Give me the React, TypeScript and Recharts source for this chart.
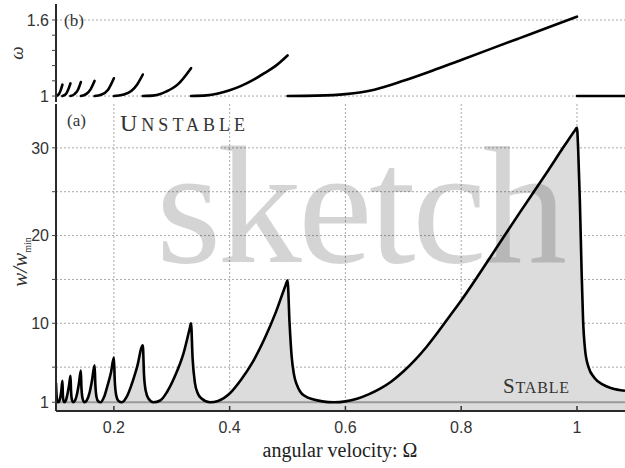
import { Area, CartesianGrid, ComposedChart, Line, ReferenceLine, XAxis, YAxis } from "recharts";

// angular velocity axis
const xTicks = [0.2, 0.4, 0.6, 0.8, 1];
const xDomain = [0.1, 1.083];

// panel (b): oscillation frequency
const omegaTicks = [1, 1.12, 1.24, 1.36, 1.48, 1.6];
const omegaLabels = ["1", "", "", "", "", "1.6"];
const omegaGrid = [1, 1.6];

// panel (a): w / w_min
const wTicks = [1, 5, 10, 15, 20, 25, 30];
const wLabels = ["1", "", "10", "", "20", "", "30"];
const wGrid = [5, 10, 15, 20, 25, 30];

// [Ω, w/w_min] stability boundary
const stabilityCurve: [number, number][] = [
	[0.1, 3.2], [0.1012, 1.6], [0.1025, 1.05], [0.104, 1.0], [0.1065, 1.3], [0.109, 2.2], [0.1111, 3.45],
	[0.1118, 2.0], [0.1128, 1.2], [0.1145, 1.0], [0.117, 1.2], [0.12, 2.0], [0.1225, 2.9], [0.125, 4.0],
	[0.126, 2.3], [0.1275, 1.3], [0.13, 1.0], [0.133, 1.2], [0.1365, 2.0], [0.1395, 3.1], [0.1429, 4.6],
	[0.144, 2.6], [0.146, 1.4], [0.149, 1.0], [0.153, 1.2], [0.158, 2.1], [0.162, 3.4], [0.1667, 5.2],
	[0.168, 3.0], [0.17, 1.6], [0.173, 1.1], [0.177, 1.0], [0.183, 1.6], [0.189, 2.9], [0.195, 4.4], [0.2, 6.1],
	[0.2015, 3.5], [0.204, 1.8], [0.208, 1.15], [0.214, 1.0], [0.222, 1.6], [0.23, 2.9], [0.24, 5.0], [0.25, 7.5],
	[0.252, 4.2], [0.255, 2.3], [0.26, 1.4], [0.268, 1.0], [0.28, 1.2], [0.292, 2.2], [0.305, 3.9], [0.32, 6.5], [0.331, 9.4], [0.3333, 10.0],
	[0.336, 6.0], [0.34, 3.2], [0.345, 2.0], [0.352, 1.4], [0.366, 1.0], [0.38, 1.15], [0.4, 2.0], [0.42, 3.6], [0.44, 5.6], [0.46, 8.2], [0.48, 11.3], [0.497, 14.4], [0.5, 14.9],
	[0.5035, 10.0], [0.507, 6.3], [0.511, 4.2], [0.516, 3.0], [0.522, 2.2], [0.53, 1.7], [0.545, 1.3], [0.56, 1.1], [0.58, 1.0],
	[0.6, 1.1], [0.62, 1.4], [0.64, 1.9], [0.66, 2.55], [0.68, 3.4], [0.7, 4.5], [0.72, 5.8], [0.74, 7.3], [0.76, 9.0], [0.78, 10.8],
	[0.8, 12.6], [0.85, 17.5], [0.9, 22.5], [0.95, 27.4], [0.98, 30.4], [0.996, 31.95], [1.0, 32.3],
	[1.002, 30], [1.005, 24], [1.008, 16], [1.0105, 10.5], [1.014, 7.0], [1.02, 5.0], [1.03, 3.8], [1.045, 3.0], [1.06, 2.6], [1.083, 2.3],
];

// [Ω, ω] branches, one per resonance window
const branch10: [number, number][] = [[0.1, 1.0], [0.105, 1.015], [0.108, 1.045], [0.1111, 1.09]];
const branch9: [number, number][] = [[0.1111, 1.0], [0.117, 1.015], [0.121, 1.05], [0.125, 1.1]];
const branch8: [number, number][] = [[0.125, 1.0], [0.132, 1.015], [0.138, 1.05], [0.1429, 1.11]];
const branch7: [number, number][] = [[0.1429, 1.0], [0.152, 1.015], [0.16, 1.055], [0.1667, 1.12]];
const branch6: [number, number][] = [[0.1667, 1.0], [0.178, 1.01], [0.19, 1.05], [0.2, 1.14]];
const branch5: [number, number][] = [[0.2, 1.0], [0.215, 1.01], [0.23, 1.04], [0.24, 1.09], [0.25, 1.17]];
const branch4: [number, number][] = [[0.25, 1.0], [0.27, 1.005], [0.29, 1.035], [0.31, 1.09], [0.3333, 1.22]];
const branch3: [number, number][] = [
	[0.3333, 1.0], [0.36, 1.005], [0.38, 1.02], [0.4, 1.045], [0.42, 1.08], [0.44, 1.125], [0.46, 1.18], [0.48, 1.24], [0.5, 1.32],
];
const branch2: [number, number][] = [
	[0.5, 1.0], [0.55, 1.003], [0.6, 1.015], [0.65, 1.05], [0.7, 1.12], [0.75, 1.2], [0.8, 1.285], [0.85, 1.37], [0.9, 1.455], [0.95, 1.54], [1.0, 1.626],
];
const branch1: [number, number][] = [[1.0, 1.0], [1.083, 1.0]];
const branches = [branch10, branch9, branch8, branch7, branch6, branch5, branch4, branch3, branch2, branch1];

const serif = "'Liberation Serif', 'Times New Roman', serif";
const sans = "'Liberation Sans', Arial, sans-serif";
const frame = { stroke: "#2a2a2a", strokeWidth: 2 };
const tickStyle = { fill: "#333", fontSize: 16, fontFamily: sans };

const curveData = stabilityCurve.map(([x, w]) => ({ x, w }));
const branchData = branches.map((b) => b.map(([x, y]) => ({ x, y })));

const App = (): JSX.Element => {
	return (
		<div style={{ position: "absolute", left: 0, top: 0, width: 625, height: 468, background: "#fff" }}>
			{/* (b) */}
			<div style={{ position: "absolute", left: 0, top: 0 }}>
				<ComposedChart width={625} height={106} margin={{ top: 4, right: 0, bottom: 4, left: 0 }}>
					<CartesianGrid
						stroke="#a8a8a8"
						strokeDasharray="2 2"
						horizontalValues={omegaGrid}
						verticalValues={xTicks}
					/>
					<XAxis
						type="number"
						dataKey="x"
						domain={xDomain}
						allowDataOverflow
						ticks={xTicks}
						tick={false}
						tickLine={false}
						height={0}
						axisLine={frame}
					/>
					<XAxis
						xAxisId="top"
						orientation="top"
						type="number"
						dataKey="x"
						domain={xDomain}
						allowDataOverflow
						tick={false}
						tickLine={false}
						height={0}
						axisLine={frame}
					/>
					<YAxis
						type="number"
						domain={[0.953, 1.726]}
						allowDataOverflow
						ticks={omegaTicks}
						tickFormatter={(_v: number, i: number) => omegaLabels[i]}
						width={56}
						tickSize={4}
						tickMargin={3}
						tick={tickStyle}
						tickLine={{ stroke: "#444" }}
						axisLine={frame}
					/>
					{branchData.map((b, i) => (
						<Line
							key={i}
							data={b}
							dataKey="y"
							type="monotone"
							stroke="#000"
							strokeWidth={2.6}
							strokeLinecap="round"
							dot={false}
							activeDot={false}
							isAnimationActive={false}
						/>
					))}
				</ComposedChart>
			</div>

			{/* (a) */}
			<div style={{ position: "absolute", left: 0, top: 100 }}>
				<ComposedChart width={625} height={368} data={curveData} margin={{ top: 4, right: 0, bottom: 0, left: 0 }}>
					<XAxis
						type="number"
						dataKey="x"
						domain={xDomain}
						allowDataOverflow
						ticks={xTicks}
						tickFormatter={(v: number) => String(v)}
						height={57}
						tickSize={-5}
						tickMargin={16}
						tick={tickStyle}
						tickLine={{ stroke: "#333", strokeWidth: 1.5 }}
						axisLine={frame}
					/>
					<XAxis
						xAxisId="top"
						orientation="top"
						type="number"
						dataKey="x"
						domain={xDomain}
						allowDataOverflow
						ticks={xTicks}
						tick={false}
						height={0}
						tickSize={-5}
						tickLine={{ stroke: "#333", strokeWidth: 1.5 }}
						axisLine={frame}
					/>
					<YAxis
						type="number"
						domain={[0, 35]}
						allowDataOverflow
						ticks={wTicks}
						tickFormatter={(_v: number, i: number) => wLabels[i]}
						width={56}
						tickSize={4}
						tickMargin={3}
						tick={tickStyle}
						tickLine={{ stroke: "#444" }}
						axisLine={frame}
					/>
					<Area
						dataKey="w"
						type="monotone"
						fill="#dcdcdc"
						fillOpacity={1}
						stroke="none"
						dot={false}
						activeDot={false}
						isAnimationActive={false}
					/>
					<CartesianGrid
						stroke="#a8a8a8"
						strokeDasharray="2 2"
						horizontalValues={wGrid}
						verticalValues={xTicks}
					/>
					<ReferenceLine y={1} stroke="#9a9a9a" strokeWidth={2} />
					<Line
						dataKey="w"
						type="monotone"
						stroke="#000"
						strokeWidth={2.6}
						dot={false}
						activeDot={false}
						isAnimationActive={false}
					/>
				</ComposedChart>
			</div>

			{/* labels, annotations, watermark */}
			<svg width={625} height={468} style={{ position: "absolute", left: 0, top: 0, pointerEvents: "none" }}>
				<text x={64} y={26} fontFamily={serif} fontSize={17} fill="#333">(b)</text>
				<text x={67} y={126} fontFamily={serif} fontSize={17} fill="#333">(a)</text>
				<text x={120} y={131} fontFamily={serif} fill="#333" textLength={125} lengthAdjust="spacing">
					<tspan fontSize={24}>U</tspan>
					<tspan fontSize={18}>NSTABLE</tspan>
				</text>
				<text x={503} y={393} fontFamily={serif} fill="#333" textLength={66} lengthAdjust="spacing">
					<tspan fontSize={21}>S</tspan>
					<tspan fontSize={16}>TABLE</tspan>
				</text>
				<text
					transform="translate(23,53) rotate(-90)"
					textAnchor="middle"
					fontFamily={serif}
					fontStyle="italic"
					fontSize={19}
					fill="#333"
				>
					ω
				</text>
				<text
					transform="translate(27,262) rotate(-90)"
					textAnchor="middle"
					fontFamily={serif}
					fill="#333"
				>
					<tspan fontStyle="italic" fontSize={21}>w/w</tspan>
					<tspan fontSize={10} dy={4}>min</tspan>
				</text>
				<text x={340} y={457} textAnchor="middle" fontFamily={serif} fontSize={20} fill="#222">
					angular velocity: Ω
				</text>
				<text
					x={156}
					y={262}
					fontFamily={serif}
					fontSize={168}
					fill="#000"
					fillOpacity={0.17}
					textLength={411}
					lengthAdjust="spacing"
				>
					sketch
				</text>
			</svg>
		</div>
	);
};

export default App;
